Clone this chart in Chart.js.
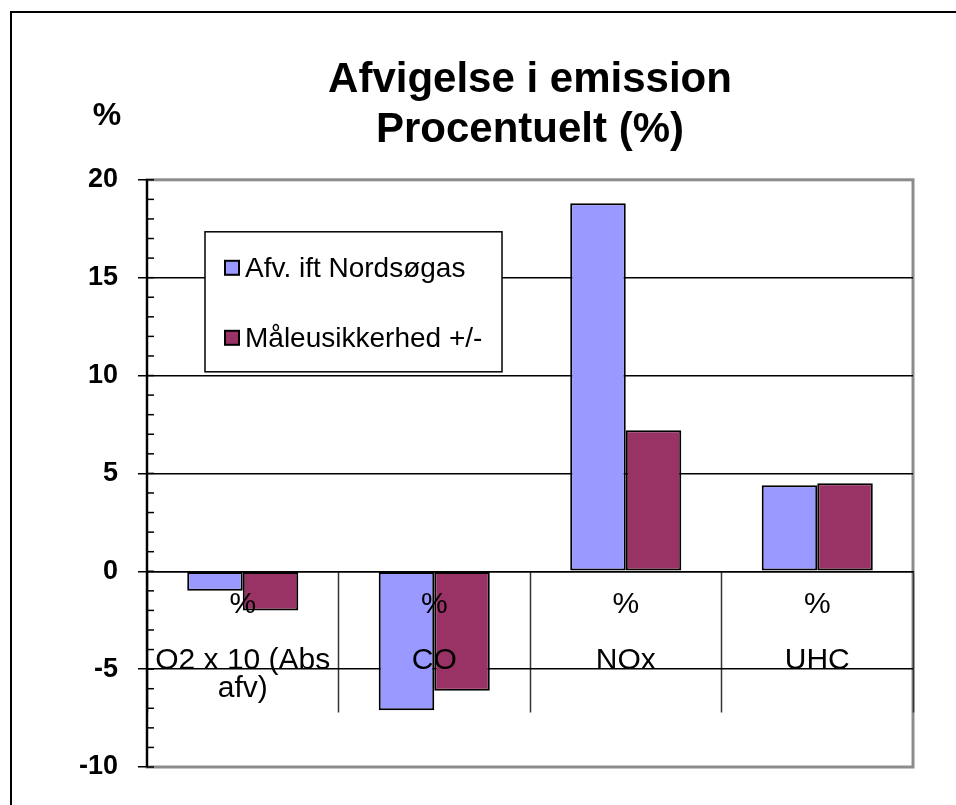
<!DOCTYPE html>
<html>
<head>
<meta charset="utf-8">
<script src="https://cdn.jsdelivr.net/npm/chart.js@4"></script>
<style>
  html, body { margin: 0; padding: 0; background: #fff; overflow: hidden; }
  #frame { position: absolute; left: 10px; top: 11px; width: 946px; height: 794px;
           border-top: 2px solid #000; border-left: 2px solid #000; pointer-events: none; }
  canvas { position: absolute; left: 0; top: 0; }
</style>
</head>
<body>
<canvas id="chart" width="956" height="805"></canvas>
<div id="frame"></div>
<script>
const categories = [
    ['%', '', 'O2 x 10 (Abs', 'afv)'],
    ['%', '', 'CO'],
    ['%', '', 'NOx'],
    ['%', '', 'UHC']
]
const seriesNames = ['Afv. ift Nordsøgas', 'Måleusikkerhed +/-']
const afvNordsogas = [-1, -7.1, 18.8, 4.4]
const maaleusikkerhed = [-2, -6.1, 7.2, 4.5]
const yMin = -10
const yMax = 20
const titleLines = ['Afvigelse i emission', 'Procentuelt (%)']
const yUnit = '%'

const FONT = "'Liberation Sans', Arial, sans-serif"
Chart.defaults.font.family = FONT
Chart.defaults.color = '#000'

// plot frame (grey) behind everything
const plotFrame = {
    id: 'plotFrame',
    beforeDraw(chart) {
        const {ctx, chartArea: a} = chart
        ctx.save()
        ctx.strokeStyle = '#8c8c8c'
        ctx.lineWidth = 3
        ctx.strokeRect(a.left, a.top, a.right - a.left, a.bottom - a.top)
        ctx.restore()
    }
}

// small inner tick marks, y unit and the boxed legend
const extras = {
    id: 'extras',
    afterDraw(chart) {
        const {ctx, chartArea: a, scales} = chart
        const y = scales.y
        ctx.save()
        ctx.strokeStyle = '#000'
        ctx.lineWidth = 1.5
        y.ticks.forEach(t => {
            const py = y.getPixelForValue(t.value)
            ctx.beginPath()
            ctx.moveTo(a.left, py)
            ctx.lineTo(a.left + 7, py)
            ctx.stroke()
        })

        ctx.fillStyle = '#000'
        ctx.font = 'bold 32px ' + FONT
        ctx.textAlign = 'center'
        ctx.textBaseline = 'middle'
        ctx.fillText(yUnit, a.left - 40, a.top - 64)

        // legend box
        const lx = a.left + 58, ly = a.top + 52, lw = 297, lh = 140
        ctx.fillStyle = '#fff'
        ctx.fillRect(lx, ly, lw, lh)
        ctx.strokeStyle = '#000'
        ctx.lineWidth = 1.5
        ctx.strokeRect(lx, ly, lw, lh)
        ctx.font = '28px ' + FONT
        ctx.textAlign = 'left'
        chart.data.datasets.forEach((ds, i) => {
            const cy = ly + 36 + i * 70
            ctx.fillStyle = ds.backgroundColor
            ctx.fillRect(lx + 20, cy - 7, 14, 14)
            ctx.lineWidth = 2
            ctx.strokeRect(lx + 20, cy - 7, 14, 14)
            ctx.fillStyle = '#000'
            ctx.fillText(ds.label, lx + 40, cy + 1)
        })
        ctx.restore()
    }
}

const data = {
    labels: categories,
    datasets: [{
        label: seriesNames[0],
        data: afvNordsogas,
        backgroundColor: '#9999ff',
        borderColor: '#000',
        borderWidth: 2,
        borderSkipped: false
    }, {
        label: seriesNames[1],
        data: maaleusikkerhed,
        backgroundColor: '#993366',
        borderColor: '#000',
        borderWidth: 2,
        borderSkipped: false
    }]
}

const config = {
    type: 'bar',
    data: data,
    options: {
        responsive: false,
        animation: false,
        layout: {
            padding: {left: 47, right: 43, top: 0, bottom: 38}
        },
        datasets: {
            bar: {categoryPercentage: 0.58, barPercentage: 1}
        },
        plugins: {
            legend: {display: false},
            tooltip: {enabled: false},
            title: {
                display: true,
                fullSize: false,
                text: titleLines,
                color: '#000',
                font: {size: 42, weight: 'bold', lineHeight: 1.2},
                padding: {top: 55, bottom: 24}
            }
        },
        scales: {
            x: {
                position: {y: 0},
                grid: {
                    offset: true,
                    drawOnChartArea: false,
                    drawTicks: true,
                    tickLength: 140,
                    tickColor: '#333',
                    tickWidth: 1.5
                },
                border: {display: true, color: '#000', width: 1.5, z: 1},
                ticks: {
                    z: 2,
                    color: '#000',
                    font: {size: 30, lineHeight: '28px'},
                    padding: -121,
                    maxRotation: 0,
                    autoSkip: false
                }
            },
            y: {
                min: yMin,
                max: yMax,
                afterFit: scale => { scale.width = 100 },
                grid: {
                    color: ctx => (ctx.tick && ctx.tick.value % 5 === 0 && ctx.tick.value !== yMin && ctx.tick.value !== yMax) ? '#000' : 'rgba(0,0,0,0)',
                    lineWidth: 1.5,
                    tickLength: 9,
                    tickColor: ctx => (ctx.tick && ctx.tick.value % 5 === 0) ? '#000' : 'rgba(0,0,0,0)',
                    tickWidth: 1.5
                },
                border: {display: true, color: '#000', width: 2},
                ticks: {
                    stepSize: 1,
                    autoSkip: false,
                    padding: 20,
                    color: '#000',
                    font: {size: 27, weight: 'bold'},
                    callback: v => (v % 5 === 0 ? v : '')
                }
            }
        }
    },
    plugins: [plotFrame, extras]
}

const ctx = document.getElementById('chart').getContext('2d')
const emissionChart = new Chart(ctx, config)
</script>
</body>
</html>
